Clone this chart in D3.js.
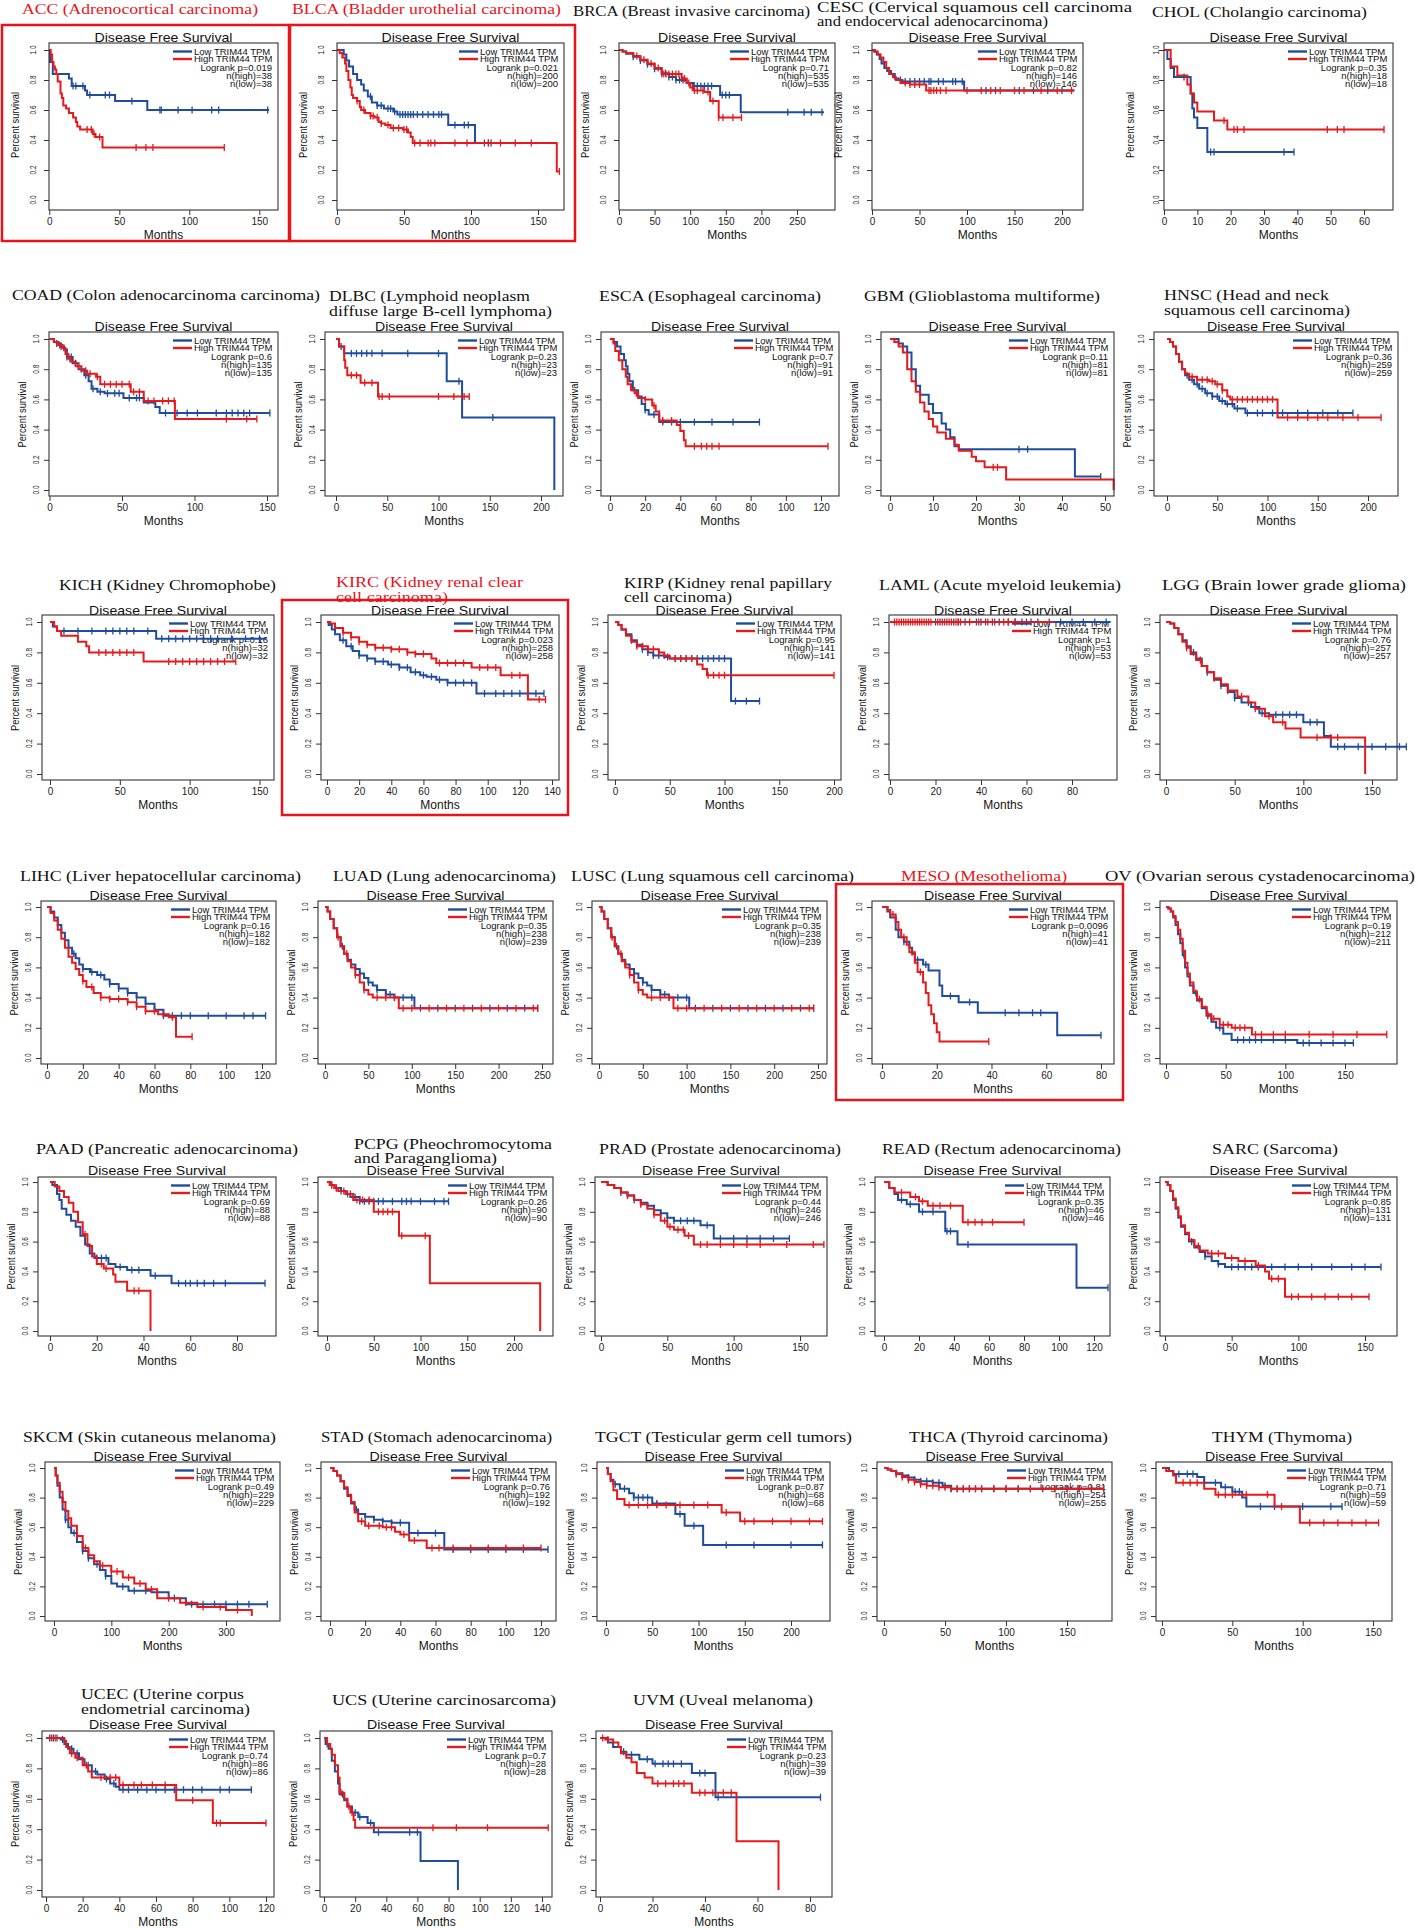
<!DOCTYPE html>
<html><head><meta charset="utf-8">
<script src="https://cdn.jsdelivr.net/npm/d3@7"></script>
<style>body{margin:0;background:#fff}svg{display:block}</style>
</head><body>
<svg id="c" width="1418" height="1928"></svg>
<script>
// ---------------- DATA ----------------
const panels = ["ACC","BLCA","BRCA","CESC","CHOL","COAD","DLBC","ESCA","GBM","HNSC","KICH","KIRC","KIRP","LAML","LGG","LIHC","LUAD","LUSC","MESO","OV","PAAD","PCPG","PRAD","READ","SARC","SKCM","STAD","TGCT","THCA","THYM","UCEC","UCS","UVM"];
const titleLines = [
["ACC (Adrenocortical carcinoma)"],["BLCA (Bladder urothelial carcinoma)"],["BRCA (Breast invasive carcinoma)"],
["CESC (Cervical squamous cell carcinoma","and endocervical adenocarcinoma)"],["CHOL (Cholangio carcinoma)"],
["COAD (Colon adenocarcinoma carcinoma)"],["DLBC (Lymphoid neoplasm","diffuse large B-cell lymphoma)"],
["ESCA (Esophageal carcinoma)"],["GBM (Glioblastoma multiforme)"],["HNSC (Head and neck","squamous cell carcinoma)"],
["KICH (Kidney Chromophobe)"],["KIRC (Kidney renal clear","cell carcinoma)"],["KIRP (Kidney renal papillary","cell carcinoma)"],
["LAML (Acute myeloid leukemia)"],["LGG (Brain lower grade glioma)"],
["LIHC (Liver hepatocellular carcinoma)"],["LUAD (Lung adenocarcinoma)"],["LUSC (Lung squamous cell carcinoma)"],
["MESO (Mesothelioma)"],["OV (Ovarian serous cystadenocarcinoma)"],
["PAAD (Pancreatic adenocarcinoma)"],["PCPG (Pheochromocytoma","and Paraganglioma)"],["PRAD (Prostate adenocarcinoma)"],
["READ (Rectum adenocarcinoma)"],["SARC (Sarcoma)"],
["SKCM (Skin cutaneous melanoma)"],["STAD (Stomach adenocarcinoma)"],["TGCT (Testicular germ cell tumors)"],
["THCA (Thyroid carcinoma)"],["THYM (Thymoma)"],
["UCEC (Uterine corpus","endometrial carcinoma)"],["UCS (Uterine carcinosarcoma)"],["UVM (Uveal melanoma)"]];
const highlighted = ["ACC","BLCA","KIRC","MESO"];
const plotTitle = "Disease Free Survival";
const legendLabels = ["Low TRIM44 TPM","High TRIM44 TPM"];
const xAxisTitle = "Months", yAxisTitle = "Percent survival";
const logrankP = ["0.019","0.021","0.71","0.82","0.35","0.6","0.23","0.7","0.11","0.36","0.16","0.023","0.95","1","0.76","0.16","0.35","0.35","0.0096","0.19","0.69","0.26","0.44","0.35","0.85","0.49","0.76","0.87","0.81","0.71","0.74","0.7","0.23"];
const nHigh = [38,200,535,146,18,135,23,91,81,259,32,258,141,53,257,182,238,238,41,212,88,90,246,46,131,229,192,68,254,59,86,28,39];
const nLow  = [38,200,535,146,18,135,23,91,81,259,32,258,141,53,257,182,239,239,41,211,88,90,246,46,131,229,192,68,255,59,86,28,39];
const xTickMax  = [150,150,250,200,60, 150,200,120,50,200, 150,140,200,80,150, 120,250,250,80,150, 80,200,150,120,150, 300,120,200,150,150, 120,140,80];
const xTickStep = [50,50,50,50,10, 50,50,20,10,50, 50,20,50,20,50, 20,50,50,20,50, 20,50,50,20,50, 100,20,50,50,50, 20,20,20];
const yTickValues = [0,0.2,0.4,0.6,0.8,1.0];

// Low TRIM44 (blue) : steps [month, survival], last follow-up, censor months
const lowSteps = [
[[0.5,0.92],[2.5,0.84],[14,0.81],[16,0.76],[25.5,0.73],[27,0.70],[47,0.66],[70,0.60]],
[[5,0.97],[7,0.93],[9,0.89],[12,0.84],[15,0.80],[18,0.77],[20,0.73],[23,0.69],[26,0.65],[30,0.63],[35,0.61],[42,0.59],[45,0.57],[83,0.50],[103,0.38]],
[[5,0.99],[10,0.975],[20,0.955],[30,0.93],[40,0.905],[50,0.875],[60,0.845],[70,0.82],[80,0.80],[95,0.78],[105,0.76],[142,0.70],[171,0.585]],
[[2,0.99],[5,0.97],[8,0.94],[10,0.91],[13,0.88],[16,0.86],[20,0.84],[24,0.81],[28,0.80],[32,0.79],[97,0.73]],
[[1,0.94],[2,0.88],[3,0.82],[8,0.71],[8.5,0.61],[9,0.55],[10,0.48],[13,0.32]],
[[3,0.98],[5,0.97],[8,0.95],[10,0.93],[12,0.88],[16,0.84],[20,0.80],[24,0.76],[27,0.72],[29,0.67],[33,0.65],[38,0.64],[51,0.61],[65,0.58],[73,0.55],[76,0.51]],
[[3,0.95],[8,0.905],[108,0.72],[123,0.48],[213,0]],
[[2,0.98],[4,0.95],[6,0.90],[8,0.86],[9,0.82],[10,0.77],[11,0.72],[13,0.66],[16,0.62],[18,0.57],[20,0.53],[22,0.50],[28,0.45]],
[[2,0.97],[3,0.95],[4,0.91],[5,0.80],[6,0.69],[7,0.63],[9,0.57],[10,0.51],[12,0.44],[13,0.40],[14,0.35],[15,0.29],[16,0.27],[43,0.09]],
[[3,0.98],[6,0.95],[9,0.90],[12,0.85],[15,0.80],[18,0.76],[22,0.73],[27,0.70],[32,0.67],[38,0.64],[45,0.62],[52,0.59],[58,0.57],[67,0.54],[78,0.51]],
[[2,0.97],[5,0.94],[76,0.89]],
[[1,0.98],[3,0.95],[5,0.92],[8,0.88],[12,0.84],[16,0.81],[20,0.78],[25,0.76],[30,0.74],[38,0.72],[45,0.70],[52,0.67],[58,0.65],[62,0.64],[68,0.62],[75,0.60],[93,0.53]],
[[3,0.98],[6,0.95],[10,0.92],[15,0.88],[20,0.85],[25,0.82],[30,0.80],[35,0.78],[45,0.77],[50,0.76],[106,0.48]],
[],
[[3,0.99],[6,0.96],[9,0.92],[12,0.88],[15,0.84],[18,0.80],[22,0.76],[26,0.71],[30,0.67],[35,0.62],[40,0.58],[45,0.54],[50,0.50],[55,0.47],[62,0.44],[68,0.40],[75,0.39],[100,0.34],[115,0.25],[120,0.18]],
[[2,0.97],[4,0.93],[6,0.88],[8,0.83],[10,0.78],[12,0.73],[14,0.69],[16,0.66],[18,0.62],[20,0.59],[24,0.57],[28,0.55],[32,0.52],[35,0.49],[40,0.46],[45,0.43],[50,0.40],[55,0.36],[60,0.32],[65,0.28]],
[[3,0.97],[6,0.92],[10,0.86],[14,0.80],[18,0.74],[22,0.69],[26,0.65],[30,0.62],[35,0.59],[40,0.56],[45,0.53],[50,0.50],[55,0.48],[60,0.45],[70,0.42],[80,0.40],[103,0.33]],
[[3,0.97],[6,0.92],[10,0.86],[14,0.80],[18,0.74],[22,0.69],[26,0.65],[30,0.62],[35,0.59],[40,0.56],[45,0.53],[50,0.50],[55,0.48],[60,0.45],[70,0.42],[80,0.40],[103,0.33]],
[[2,0.97],[3,0.93],[5,0.85],[6,0.80],[8,0.77],[10,0.73],[11,0.69],[12,0.65],[15,0.62],[17,0.58],[21,0.48],[22,0.41],[28,0.37],[35,0.30],[64,0.15]],
[[2,0.99],[4,0.97],[6,0.93],[8,0.88],[10,0.82],[12,0.76],[14,0.68],[16,0.60],[18,0.54],[20,0.48],[23,0.43],[26,0.38],[30,0.33],[34,0.28],[38,0.24],[42,0.20],[48,0.16],[55,0.12],[110,0.10]],
[[1,0.98],[3,0.92],[4,0.88],[5,0.82],[7,0.78],[9,0.74],[11,0.70],[13,0.64],[15,0.58],[17,0.52],[19,0.49],[25,0.45],[28,0.43],[33,0.41],[43,0.37],[52,0.32]],
[[3,0.98],[8,0.96],[15,0.94],[20,0.92],[25,0.90],[35,0.87]],
[[5,0.98],[10,0.96],[15,0.93],[20,0.91],[25,0.88],[30,0.86],[35,0.84],[40,0.81],[45,0.79],[50,0.76],[55,0.74],[75,0.71],[85,0.62]],
[[3,0.96],[6,0.92],[8,0.88],[13,0.85],[20,0.80],[35,0.67],[42,0.58],[110,0.29]],
[[2,0.98],[4,0.94],[6,0.88],[8,0.82],[10,0.76],[12,0.70],[15,0.65],[18,0.60],[22,0.56],[26,0.53],[30,0.50],[35,0.47],[40,0.45],[45,0.43]],
[[3,0.95],[6,0.88],[10,0.80],[15,0.72],[20,0.65],[25,0.60],[30,0.56],[40,0.50],[50,0.44],[60,0.39],[70,0.35],[80,0.31],[90,0.27],[100,0.22],[110,0.20],[130,0.17],[170,0.16],[200,0.12],[230,0.08]],
[[2,0.98],[4,0.95],[6,0.91],[8,0.86],[10,0.81],[12,0.76],[14,0.72],[16,0.69],[20,0.67],[25,0.65],[30,0.64],[35,0.63],[45,0.56],[65,0.45]],
[[2,0.96],[5,0.92],[8,0.89],[15,0.86],[25,0.83],[30,0.80],[50,0.76],[75,0.69],[85,0.61],[105,0.48]],
[[3,0.99],[6,0.98],[10,0.965],[15,0.95],[20,0.935],[25,0.92],[30,0.91],[40,0.90],[48,0.88],[55,0.86]],
[[5,0.98],[8,0.96],[25,0.94],[30,0.90],[42,0.87],[50,0.84],[57,0.80],[60,0.74]],
[[8,0.99],[10,0.96],[12,0.93],[15,0.90],[18,0.86],[21,0.82],[25,0.78],[28,0.76],[32,0.73],[35,0.70],[38,0.68],[40,0.66]],
[[1,0.96],[3,0.93],[5,0.85],[7,0.78],[9,0.70],[10,0.63],[13,0.59],[15,0.55],[18,0.51],[22,0.48],[28,0.44],[32,0.38],[62,0.19],[86,0]],
[[3,0.97],[5,0.94],[8,0.91],[10,0.89],[15,0.86],[20,0.83],[35,0.77],[44,0.61]]];
const lowEnd = [157,115,288,213,39, 152,213,85,49,185, 155,135,132,97,175, 122,245,245,80,157, 92,130,142,128,162, 372,124,234,180,128, 112,86,84];
const lowCens = [
[17,19,24,29,40,43,59,79,80,92,102,116,121,156],
[25,30,33,38,40,43,47,49,51,53,55,57,60,64,68,72,76,78,88,95,98,110,113,115],
[20,30,40,50,60,65,70,75,80,85,90,105,110,115,120,125,130,145,150,155,237,260,270,285],
[30,35,40,45,50,55,60,62,70,75,85,88,95,120,130,155,170,185,200],
[6,14,15,36,39],
[5,8,12,15,18,22,25,30,35,40,45,48,55,60,62,80,88,95,102,115,122,126,130,134,138,152],
[5,15,20,25,30,35,45,70,100,120,153],
[14,20,25,30,35,40,48,58,70,85],
[30,32,49],
[20,25,30,35,40,45,50,55,60,65,70,80,90,95,105,115,130,140,155,170,185],
[10,20,30,40,45,50,55,60,70,80,85,90,95,100,105,110,115,120,130,140,150],
[10,15,20,25,30,35,40,45,50,55,60,65,70,75,80,85,90,98,105,110,115,120,125,130,135],
[15,20,25,30,35,40,48,55,60,65,70,75,80,85,90,95,100,110,120,132],
[20,22,25,28,30,33,38,40,42,45,48,52,55,58,60,62,65,70,75,80,85,90,95],
[20,30,40,50,60,70,80,85,90,95,105,110,125,130,140,150,160,170,175],
[15,20,25,30,35,40,45,50,55,60,65,70,75,80,90,100,110,115,122],
[20,30,40,50,60,70,75,80,90,100,110,130,150,170,190,210,230,245],
[20,30,40,50,60,70,75,80,90,100,110,130,150,170,190,210,230,245],
[8,13,16,25,32,45,50,55,58,80],
[15,25,35,45,60,65,70,75,80,90,100,115,120,130,140,150,157],
[20,22,24,30,35,38,45,55,58,60,63,66,70,75,92],
[5,10,15,22,30,35,40,45,50,55,60,70,80,85,90,100,115,125,130],
[15,20,25,30,35,40,45,50,55,60,65,70,80,90,100,110,120,130,142],
[10,15,22,28,36,38,48,128],
[20,30,40,50,55,60,65,70,80,90,100,110,125,140,150,162],
[20,35,50,60,75,90,120,140,160,180,210,240,260,280,300,320,340,372],
[15,20,25,30,35,40,50,60,70,80,90,100,110,124],
[10,20,30,35,40,45,55,80,95,130,160,200,234],
[10,15,20,25,30,35,40,45,50,55,60,65,70,75,80,90,100,110,120,130,140,150,160,170,180],
[12,18,22,30,38,45,52,55,70,80,100,120,128],
[2,4,6,9,14,17,23,27,33,37,42,45,50,55,60,65,70,75,80,85,95,100,112],
[2,12,20,23,30,35,55,60],
[9,12,18,21,24,26,28,31,38,40,45,84]];

// High TRIM44 (red)
const highSteps = [
[[1,0.97],[2,0.92],[3,0.89],[4,0.87],[5,0.84],[6,0.79],[8,0.71],[9,0.68],[10,0.63],[12,0.61],[14,0.58],[17,0.55],[19,0.52],[20,0.49],[22,0.47],[31,0.44],[33,0.42],[38,0.35]],
[[2,0.98],[4,0.95],[6,0.91],[7,0.86],[8.5,0.80],[10,0.75],[11,0.70],[12,0.68],[15,0.66],[17,0.62],[18,0.60],[21,0.58],[25,0.56],[28,0.55],[31,0.52],[33,0.51],[36,0.50],[40,0.48],[49,0.47],[53,0.45],[55,0.42],[56.5,0.38],[164,0.19]],
[[5,0.99],[10,0.98],[20,0.96],[30,0.935],[40,0.91],[50,0.88],[60,0.84],[88,0.81],[95,0.78],[100,0.75],[105,0.73],[120,0.72],[128,0.66],[140,0.55]],
[[3,0.99],[6,0.97],[9,0.95],[12,0.92],[15,0.88],[18,0.84],[22,0.82],[25,0.80],[30,0.78],[40,0.77],[57,0.73]],
[[2,0.89],[4,0.83],[7,0.77],[8,0.71],[9,0.65],[10,0.59],[15,0.53],[19,0.47]],
[[3,0.98],[6,0.96],[9,0.94],[11,0.90],[13,0.87],[15,0.85],[18,0.82],[22,0.79],[26,0.77],[32,0.75],[35,0.70],[56,0.65],[65,0.59],[86.5,0.47]],
[[3,0.95],[8,0.86],[9,0.81],[11,0.76],[24,0.71],[41,0.62]],
[[2,0.97],[3,0.92],[5,0.86],[7,0.80],[9,0.75],[10,0.70],[12,0.66],[14,0.64],[16,0.61],[20,0.60],[24,0.56],[26,0.52],[28,0.46],[38,0.43],[40,0.39],[42,0.33],[43,0.29]],
[[1,0.98],[2,0.95],[3,0.91],[4,0.80],[5,0.72],[6,0.65],[7,0.58],[8,0.52],[9,0.47],[10,0.42],[11,0.38],[13,0.34],[15,0.30],[16,0.26],[19,0.22],[20,0.19],[22,0.15],[27,0.07],[52,0]],
[[3,0.98],[6,0.95],[9,0.90],[12,0.85],[15,0.80],[18,0.77],[22,0.75],[30,0.73],[42,0.72],[48,0.70],[55,0.66],[60,0.62],[63,0.60],[110,0.48]],
[[3,0.97],[5,0.94],[8,0.91],[20,0.87],[26,0.84],[28,0.80],[67,0.74]],
[[2,0.99],[5,0.96],[10,0.93],[15,0.90],[20,0.87],[25,0.85],[30,0.83],[40,0.82],[50,0.80],[55,0.79],[65,0.76],[68,0.73],[90,0.70],[108,0.65],[125,0.49]],
[[3,0.98],[6,0.95],[10,0.91],[15,0.87],[20,0.84],[30,0.82],[40,0.80],[45,0.78],[50,0.76],[75,0.72],[80,0.69],[84,0.65]],
[],
[[3,0.99],[6,0.96],[9,0.92],[12,0.87],[15,0.83],[18,0.79],[22,0.75],[26,0.71],[30,0.67],[35,0.63],[40,0.59],[45,0.55],[52,0.51],[60,0.47],[65,0.43],[72,0.38],[78,0.34],[87,0.30],[98,0.24],[145,0]],
[[2,0.96],[4,0.91],[6,0.85],[8,0.79],[10,0.73],[12,0.67],[14,0.63],[16,0.59],[18,0.55],[20,0.51],[22,0.47],[26,0.43],[30,0.40],[35,0.39],[45,0.37],[50,0.34],[55,0.31],[62,0.29],[68,0.27],[72,0.14]],
[[3,0.97],[6,0.92],[10,0.86],[14,0.80],[18,0.74],[22,0.69],[26,0.64],[30,0.60],[35,0.55],[40,0.50],[45,0.45],[50,0.42],[55,0.40],[85,0.33]],
[[3,0.97],[6,0.92],[10,0.86],[14,0.80],[18,0.74],[22,0.69],[26,0.64],[30,0.60],[35,0.55],[40,0.50],[45,0.45],[50,0.42],[55,0.40],[85,0.33]],
[[2,0.98],[3,0.95],[5,0.90],[6,0.85],[7,0.80],[9,0.75],[10,0.70],[12,0.63],[13,0.57],[15,0.50],[16,0.43],[17,0.35],[18,0.29],[19,0.23],[20,0.17],[21,0.11]],
[[2,0.99],[4,0.97],[6,0.94],[8,0.90],[10,0.85],[12,0.79],[14,0.71],[16,0.63],[18,0.56],[20,0.50],[23,0.44],[26,0.39],[30,0.34],[34,0.29],[38,0.26],[45,0.22],[55,0.20],[72,0.155]],
[[2,0.97],[4,0.94],[6,0.90],[8,0.86],[10,0.80],[12,0.73],[14,0.65],[16,0.57],[18,0.50],[20,0.45],[23,0.42],[27,0.38],[28,0.33],[33,0.27],[43,0]],
[[3,0.98],[8,0.96],[12,0.94],[20,0.92],[28,0.88],[50,0.80],[77,0.64],[110,0.32],[228,0]],
[[5,0.98],[10,0.96],[15,0.93],[20,0.91],[25,0.88],[30,0.85],[35,0.82],[40,0.78],[45,0.74],[50,0.70],[55,0.68],[63,0.64],[70,0.58]],
[[3,0.96],[6,0.93],[15,0.90],[20,0.87],[25,0.84],[45,0.73]],
[[2,0.98],[4,0.94],[6,0.89],[8,0.83],[10,0.77],[12,0.71],[15,0.66],[18,0.61],[22,0.57],[26,0.54],[32,0.52],[45,0.49],[55,0.47],[68,0.44],[75,0.40],[78,0.35],[90,0.23]],
[[3,0.95],[6,0.90],[10,0.84],[15,0.77],[20,0.71],[25,0.66],[30,0.61],[40,0.54],[50,0.46],[60,0.41],[70,0.37],[80,0.34],[100,0.30],[120,0.26],[140,0.22],[160,0.18],[180,0.12],[220,0.09],[250,0.06],[300,0.04],[345,0]],
[[2,0.98],[4,0.95],[6,0.91],[8,0.87],[10,0.82],[12,0.77],[14,0.70],[16,0.64],[20,0.61],[30,0.60],[37,0.57],[40,0.55],[45,0.51],[55,0.46]],
[[2,0.96],[5,0.91],[8,0.85],[12,0.79],[20,0.75],[125,0.70],[145,0.64]],
[[3,0.99],[6,0.98],[10,0.96],[15,0.94],[20,0.92],[25,0.905],[30,0.89],[35,0.88],[45,0.87],[55,0.86]],
[[3,0.98],[8,0.95],[10,0.90],[30,0.86],[38,0.82],[80,0.74],[98,0.63]],
[[10,0.98],[11,0.94],[13,0.90],[16,0.87],[20,0.82],[23,0.78],[25,0.74],[40,0.69],[71,0.59],[91,0.44]],
[[2,0.96],[4,0.93],[5,0.89],[7,0.82],[9,0.74],[10,0.64],[13,0.60],[15,0.55],[17,0.51],[19,0.46],[20,0.41]],
[[2,0.99],[5,0.97],[7,0.94],[8,0.90],[10,0.87],[12,0.84],[14,0.77],[17,0.74],[20,0.70],[35,0.64],[52,0.32],[68,0]]];
const highEnd = [125,166,173,213,66, 143,130,124,52,213, 133,136,200,72,145, 81,245,245,39,185, 43,228,168,80,153, 345,120,234,180,154, 120,144,68];
const highCens = [
[27,30,32,36,62,69,74,125],
[15,20,25,27,30,33,38,42,46,50,52,58,62,68,70,73,88,97,113,122,133,145,166],
[25,35,45,55,62,66,70,75,80,84,88,92,98,103,106,110,118,125,132,140,146,160,172],
[35,40,45,50,60,62,65,68,72,78,100,115,125,135,150,160,178,195,210],
[18,21,22,24,49,52,54,66],
[7,10,14,20,25,28,33,38,42,46,50,55,58,62,68,72,78,82,86,122,136,143],
[15,20,28,35,42,45,52,100,115,125,130],
[15,20,25,30,35,48,52,55,58,62,124],
[24,25],
[25,30,35,40,45,50,55,65,70,75,80,85,90,95,100,105,120,130,140,150,160,175,190,213],
[35,40,45,50,55,60,85,90,95,100,105,110,115,120,125,133],
[10,15,20,25,30,35,40,45,50,55,60,70,75,80,85,95,100,105,115,120,132,136],
[20,25,30,35,40,45,55,60,65,70,85,90,95,100,200],
[2,3,4,5,6,7,8,9,10,11,12,13,14,15,16,17,18,21,23,24,26,27,29,30,31,35,39,43,46,50,52,55],
[15,25,35,45,55,65,75,85,110,120,125],
[20,25,30,35,40,45,50,55,60,65,70,81],
[15,25,35,45,60,70,80,90,100,120,140,160,180,200,220,240,245],
[15,25,35,45,60,70,80,90,100,120,140,160,180,200,220,240,245],
[4,8,11,14,39],
[20,28,35,40,48,52,58,62,66,75,80,90,100,120,140,160,185],
[15,22,24,36,38],
[5,10,18,25,32,38,45,55,60,65,70,80,105],
[20,30,40,48,52,58,62,66,75,80,90,100,110,120,140,160,168],
[10,18,22,28,32,38,48,52,56,62,80],
[25,35,40,50,60,70,80,85,95,100,110,120,130,140,153],
[15,25,40,55,70,85,100,110,130,150,170,200,230,260,290,320],
[18,22,28,32,35,42,48,58,62,70,80,90,100,110,120],
[25,35,45,55,65,80,95,110,130,150,160,180,200,220,234],
[10,15,20,25,30,35,40,45,50,55,60,65,70,75,80,90,100,110,120,130,140,150,160,170,180],
[15,20,25,40,45,50,60,75,85,105,115,125,135,145,154],
[3,5,14,17,22,30,35,38,42,48,52,58,65,80,93,95,120],
[11,16,18,70,85,105,144],
[1,3,22,25,28,30,32,38,40,43,47,50]];

// ---------------- LAYOUT ----------------
const frameLR = [[49,278],[337,564],[619,835],[872,1083],[1164,1393],
 [49,278],[325,563],[601,839],[881,1114],[1154,1398],
 [42,274],[321,559],[608,841],[889,1117],[1160,1397],
 [41,276],[318,553],[592,827],[872,1114],[1160,1397],
 [38,276],[318,553],[595,827],[875,1110],[1160,1397],
 [45,280],[321,556],[597,830],[877,1112],[1156,1392],
 [42,274],[320,552],[596,832]];
const xZeroPx = [49.3,337,619,872,1164, 49.5,336,610,890,1167, 50,327,615,890,1166, 47,325,599,882,1166, 50,327,601,884,1165, 54,330,606,884,1162, 46,324,600];
const xMaxTickPx = [259.3,538,797,1062,1364, 267,541,821,1105,1368, 259.5,552,834,1072,1372, 262,542,818,1101,1345, 237,514,800,1094,1365, 226,541,791,1067,1373, 266,542,810];
const yLabelGap = [16,16,16,16,8, 13,13,13,13,13, 13,13,13,13,13, 13,13,13,13,13, 13,13,13,13,13, 13,13,13,13,13, 13,13,13];
const rowTop = [43,332,615,901,1177,1462,1731];
const rowBottom = [210,496,780,1064,1336,1621,1897];
const rowY1 = [50,339,622,907,1182,1468,1738];
const rowY0 = [200,490,774,1058,1331,1616,1890];
const rowDFS = [37,326,610,895,1170,1456,1724];
const titleX = [22,292,573,817,1152, 12,329,599,864,1164, 59,336,624,879,1162, 20,333,571,901,1105, 36,354,599,882,1212, 23,321,595,909,1212, 81,332,633];
const titleW = [[236],[269],[237],[315,231],[215], [308],[201,223],[222],[236],[165,186], [217],[187,112],[208,108],[242],[244], [281],[223],[283],[166],[310], [262],[198,143],[242],[239],[126], [253],[231],[257],[199],[140], [163,169],[224],[180]];
const titleYc = [[9],[9],[11],[7,21],[12], [295],[296,311],[296],[296],[295,310], [585],[582,597],[583,597],[585],[585], [876],[876],[876],[876],[876], [1149],[1144,1158],[1149],[1149],[1149], [1437],[1437],[1437],[1437],[1437], [1694,1709],[1700],[1700]];
const redBoxes = [[2,25,289,241],[290,25,575,241],[282,600,568,815],[836,884,1123,1100]];

// ---------------- DRAW ----------------
const BLUE = "#1f4c9c", RED = "#e41a1c", HILITE = "#e8141b";
const SANS = "'Liberation Sans', Arial, Helvetica, sans-serif";
const SERIF = "'Liberation Serif', 'Times New Roman', serif";
const svg = d3.select("#c");
svg.append("rect").attr("width",1418).attr("height",1928).attr("fill","#fff");

function survAt(steps, t){ let s=1; for(const [ti,si] of steps){ if(ti<=t) s=si; else break; } return s; }

panels.forEach((name,i)=>{
  const r = Math.floor(i/5);
  const [L,R] = frameLR[i];
  const T = rowTop[r], B = rowBottom[r];
  const x = d3.scaleLinear().domain([0,xTickMax[i]]).range([xZeroPx[i], xMaxTickPx[i]]);
  const y = d3.scaleLinear().domain([0,1]).range([rowY0[r], rowY1[r]]);
  const g = svg.append("g").attr("class","panel-"+name);
  const isHi = highlighted.includes(name);

  titleLines[i].forEach((t,k)=>{
    g.append("text").attr("x",titleX[i]).attr("y",titleYc[i][k]+5)
      .attr("textLength",titleW[i][k]).attr("lengthAdjust","spacingAndGlyphs")
      .attr("font-family",SERIF).attr("font-size",15)
      .attr("fill", isHi?HILITE:"#111").text(t);
  });

  g.append("text").attr("x",(L+R)/2).attr("y",rowDFS[r]+4.5).attr("text-anchor","middle")
    .attr("font-family",SANS).attr("font-size",13).attr("textLength",138).attr("lengthAdjust","spacingAndGlyphs")
    .attr("fill","#111").text(plotTitle);

  // x axis
  const xt = d3.range(0, xTickMax[i]+1e-6, xTickStep[i]);
  const gx = g.append("g").attr("transform",`translate(0,${B})`)
    .call(d3.axisBottom(x).tickValues(xt).tickSize(5).tickPadding(2.5).tickFormat(d3.format("d")));
  gx.select(".domain").remove();
  gx.selectAll("line").attr("stroke","#333");
  gx.selectAll("text").attr("font-family",SANS).attr("font-size",10).attr("fill","#222");

  // y axis
  const gy = g.append("g").attr("transform",`translate(${L},0)`)
    .call(d3.axisLeft(y).tickValues(yTickValues).tickSize(5).tickFormat(""));
  gy.select(".domain").remove();
  gy.selectAll("line").attr("stroke","#333");
  const lx = L - yLabelGap[i];
  yTickValues.forEach(v=>{
    g.append("text").attr("transform",`translate(${lx+3.2},${y(v)}) rotate(-90)`)
      .attr("text-anchor","middle").attr("font-family",SANS).attr("font-size",9.5)
      .attr("textLength",9).attr("lengthAdjust","spacingAndGlyphs").attr("fill","#222")
      .text(d3.format(".1f")(v));
  });
  g.append("text").attr("transform",`translate(${L-(r===0?34:27)+4},${(rowY0[r]+rowY1[r])/2}) rotate(-90)`)
    .attr("text-anchor","middle").attr("font-family",SANS).attr("font-size",11.5)
    .attr("textLength",66).attr("lengthAdjust","spacingAndGlyphs").attr("fill","#111").text(yAxisTitle);
  g.append("text").attr("x",(L+R)/2).attr("y",B+29).attr("text-anchor","middle")
    .attr("font-family",SANS).attr("font-size",12).attr("fill","#111").text(xAxisTitle);

  // legend
  [[BLUE,legendLabels[0],T+8.5],[RED,legendLabels[1],T+16]].forEach(([c,lab,yy])=>{
    g.append("line").attr("x1",R-105).attr("x2",R-86).attr("y1",yy).attr("y2",yy).attr("stroke",c).attr("stroke-width",2.4);
    g.append("text").attr("x",R-84).attr("y",yy+3.3).attr("font-family",SANS).attr("font-size",9.5).attr("fill","#111").text(lab);
  });
  ["Logrank p="+logrankP[i],"n(high)="+nHigh[i],"n(low)="+nLow[i]].forEach((t,k)=>{
    g.append("text").attr("x",R-6).attr("y",T+25+8*k+3.3).attr("text-anchor","end")
      .attr("font-family",SANS).attr("font-size",9.5).attr("fill","#111").text(t);
  });

  // curves
  const line = d3.line().x(d=>x(d[0])).y(d=>y(d[1])).curve(d3.curveStepAfter);
  [[lowSteps[i],lowEnd[i],lowCens[i],BLUE],[highSteps[i],highEnd[i],highCens[i],RED]].forEach(([st,end,cens,c])=>{
    const last = st.length? st[st.length-1][1] : 1;
    const pts = [[0,1], ...st, [end,last]];
    g.append("path").attr("d",line(pts)).attr("fill","none").attr("stroke",c).attr("stroke-width",2).attr("stroke-linejoin","miter");
    g.selectAll(null).data(cens).enter().append("line")
      .attr("x1",d=>x(d)).attr("x2",d=>x(d))
      .attr("y1",d=>y(survAt(st,d))-3.5).attr("y2",d=>y(survAt(st,d))+3.5)
      .attr("stroke",c).attr("stroke-width",1.3);
  });

  // frame
  g.append("rect").attr("x",L).attr("y",T).attr("width",R-L).attr("height",B-T)
    .attr("fill","none").attr("stroke","#333").attr("stroke-width",1.1);
});

redBoxes.forEach(([x1,y1,x2,y2])=>{
  svg.append("rect").attr("x",x1).attr("y",y1).attr("width",x2-x1).attr("height",y2-y1)
    .attr("fill","none").attr("stroke",HILITE).attr("stroke-width",2.5);
});
</script>
</body></html>
